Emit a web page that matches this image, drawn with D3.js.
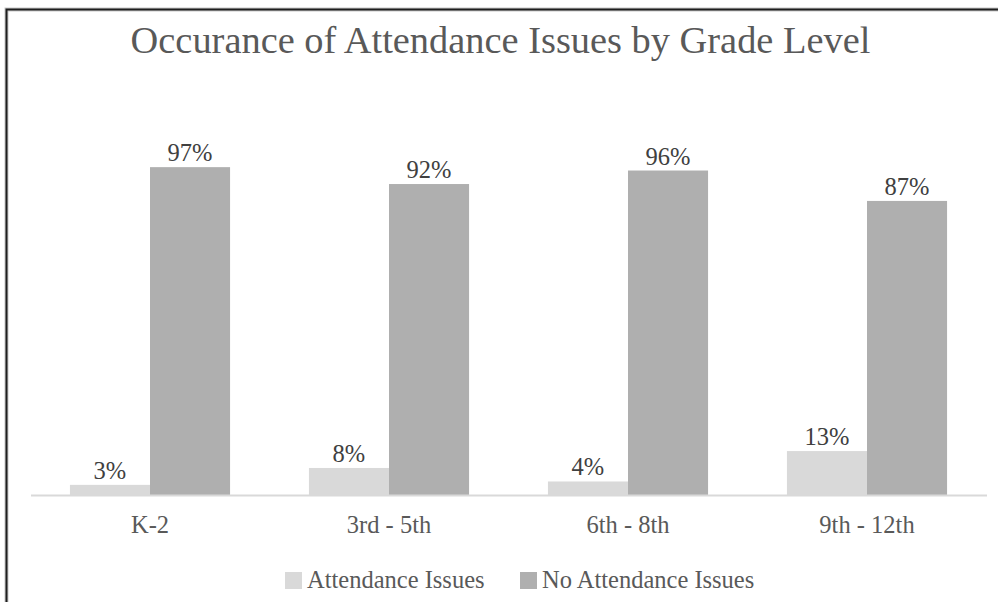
<!DOCTYPE html>
<html>
<head>
<meta charset="utf-8">
<script src="https://cdn.jsdelivr.net/npm/d3@7"></script>
</head>
<body style="margin:0">
<svg id="chart" width="998" height="602"></svg>
<script>
const categories = ["K-2", "3rd - 5th", "6th - 8th", "9th - 12th"];
const seriesNames = ["Attendance Issues", "No Attendance Issues"];
const attendanceIssues = [3, 8, 4, 13];
const noAttendanceIssues = [97, 92, 96, 87];
const titleText = "Occurance of Attendance Issues by Grade Level";

const FONT = "'Liberation Serif'";
const seriesValues = [attendanceIssues, noAttendanceIssues];
const colors = d3.scaleOrdinal().domain(seriesNames).range(["#d9d9d9", "#afafaf"]);

const svg = d3.select("#chart");
const W = 998, H = 602;

function serif(sel, size) {
  return sel.attr("font-family", "Liberation Serif")
    .style("font-family", FONT)
    .attr("font-size", size);
}

svg.append("rect").attr("width", W).attr("height", H).attr("fill", "#fff");

// frame (top and left edges visible)
svg.append("path")
  .attr("d", "M6.5,602 V9.5 H998")
  .attr("fill", "none").attr("stroke", "#c8c8c8").attr("stroke-width", 4);
svg.append("path")
  .attr("d", "M6.5,602 V9.5 H998")
  .attr("fill", "none").attr("stroke", "#1e1e1e").attr("stroke-width", 2);

// title
serif(svg.append("text"), 38.4)
  .attr("x", 500.5).attr("y", 53)
  .attr("text-anchor", "middle")
  .attr("fill", "#595959")
  .text(titleText);

const x0 = d3.scaleBand().domain(categories).range([30.5, 986.5])
  .paddingInner(0.33).paddingOuter(0.165);
const x1 = d3.scaleBand().domain(seriesNames).range([0, x0.bandwidth()]).padding(0);
const y = d3.scaleLinear().domain([0, 100]).range([495, 157]);

const rows = categories.map((c, i) => ({
  cat: c,
  vals: seriesNames.map((s, j) => ({ series: s, value: seriesValues[j][i] }))
}));

const groups = svg.append("g").selectAll("g").data(rows).join("g")
  .attr("transform", d => `translate(${x0(d.cat)},0)`);

groups.selectAll("rect").data(d => d.vals).join("rect")
  .attr("x", d => x1(d.series))
  .attr("y", d => y(d.value))
  .attr("width", x1.bandwidth())
  .attr("height", d => y(0) - y(d.value))
  .attr("fill", d => colors(d.series));

serif(groups.selectAll("text.val").data(d => d.vals).join("text"), 24.5)
  .attr("class", "val")
  .attr("x", d => x1(d.series) + x1.bandwidth() / 2)
  .attr("y", d => y(d.value) - 6)
  .attr("text-anchor", "middle")
  .attr("fill", "#404040")
  .text(d => d.value + "%");

// x axis
const xAxis = svg.append("g")
  .attr("transform", `translate(0,${y(0)})`)
  .call(d3.axisBottom(x0).tickSize(0).tickPadding(0).tickSizeOuter(0));
serif(xAxis, 24.5);
xAxis.select(".domain").attr("stroke", "#d9d9d9").attr("stroke-width", 2);
serif(xAxis.selectAll(".tick text"), 24.5)
  .attr("dy", null)
  .attr("y", 38)
  .attr("fill", "#595959");

// legend
const legend = svg.append("g");
const legendItems = [
  { name: seriesNames[0], sx: 285 },
  { name: seriesNames[1], sx: 520 }
];
const li = legend.selectAll("g").data(legendItems).join("g")
  .attr("transform", d => `translate(${d.sx},0)`);
li.append("rect")
  .attr("x", 0).attr("y", 572).attr("width", 17).attr("height", 17)
  .attr("fill", d => colors(d.name));
serif(li.append("text"), 24.5)
  .attr("x", 22).attr("y", 588)
  .attr("fill", "#595959")
  .text(d => d.name);
</script>
</body>
</html>
